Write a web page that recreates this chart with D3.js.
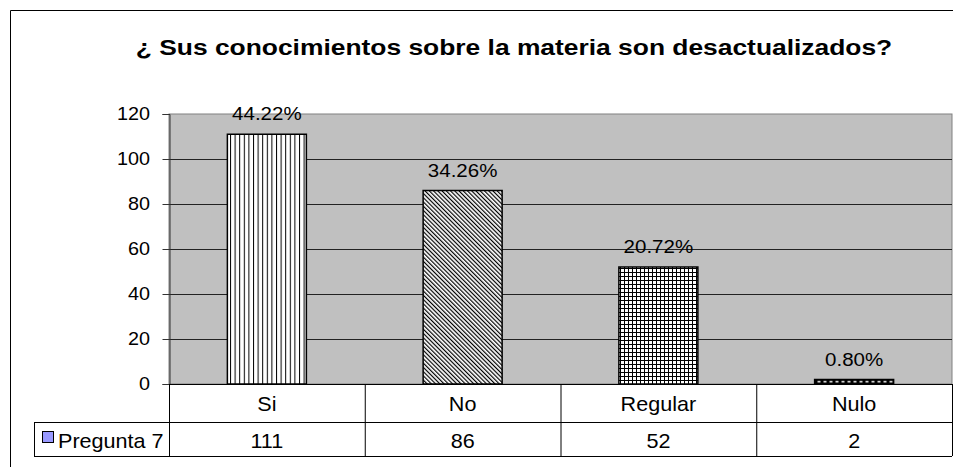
<!DOCTYPE html>
<html>
<head>
<meta charset="utf-8">
<script src="https://cdn.jsdelivr.net/npm/d3@7"></script>
<style>
  body { margin: 0; background: #fff; }
  text { font-family: "Liberation Sans", Arial, sans-serif; }
</style>
</head>
<body>
<svg id="chart" width="953" height="467"></svg>
<script>
// chart data
const categories = ['Si', 'No', 'Regular', 'Nulo'];
const values = [111, 86, 52, 2];
const percents = ['44.22%', '34.26%', '20.72%', '0.80%'];
const patterns = ['pVert', 'pDiag', 'pGrid', 'pDots'];
const yTicks = [0, 20, 40, 60, 80, 100, 120];
const seriesName = 'Pregunta 7';
const title = '¿ Sus conocimientos sobre la materia son desactualizados?';

const svg = d3.select('#chart');

const plot = { left: 169, right: 952, top: 114, bottom: 384 };
const rowH = [38, 34]; // category row, value row
const legendLeft = 34;
const stretch = 1.08; // picture is a bit wider than tall

const x = d3.scaleBand()
  .domain(categories)
  .range([plot.left, plot.right]);

const y = d3.scaleLinear()
  .domain([0, 120])
  .range([plot.bottom, plot.top]);

// patterns
const defs = svg.append('defs');

let p = defs.append('pattern').attr('id', 'pVert')
  .attr('patternUnits', 'userSpaceOnUse').attr('width', 4.6).attr('height', 4);
p.append('rect').attr('width', 4.6).attr('height', 4).attr('fill', '#fff');
p.append('rect').attr('width', 1).attr('height', 4).attr('fill', '#000');

p = defs.append('pattern').attr('id', 'pDiag')
  .attr('patternUnits', 'userSpaceOnUse').attr('width', 3).attr('height', 3)
  .attr('patternTransform', 'rotate(-45)');
p.append('rect').attr('width', 3).attr('height', 3).attr('fill', '#fff');
p.append('rect').attr('width', 1.2).attr('height', 3).attr('fill', '#000');

p = defs.append('pattern').attr('id', 'pGrid')
  .attr('patternUnits', 'userSpaceOnUse').attr('width', 4).attr('height', 4);
p.append('rect').attr('width', 4).attr('height', 4).attr('fill', '#fff');
p.append('rect').attr('width', 4).attr('height', 1).attr('fill', '#000');
p.append('rect').attr('width', 1).attr('height', 4).attr('fill', '#000');

p = defs.append('pattern').attr('id', 'pDots')
  .attr('patternUnits', 'userSpaceOnUse').attr('width', 6).attr('height', 4.5)
  .attr('y', plot.bottom);
p.append('rect').attr('width', 6).attr('height', 4.5).attr('fill', '#000');
p.append('rect').attr('x', 1.5).attr('y', 1.5).attr('width', 3).attr('height', 1.5).attr('fill', '#fff');

// helper: text stretched horizontally around its anchor
function label(g, tx, ty, str, size, anchor, sx) {
  return g.append('text')
    .attr('transform', `translate(${tx},${ty}) scale(${sx || stretch},1)`)
    .attr('text-anchor', anchor || 'middle')
    .attr('font-size', size).attr('fill', '#000')
    .text(str);
}

// outer frame (cropped at right / bottom)
svg.append('path')
  .attr('d', 'M10.5,467 V10.5 H953')
  .attr('fill', 'none').attr('stroke', '#000').attr('stroke-width', 1);

// title
label(svg, 514, 55, title, 22, 'middle', 1.2).attr('font-weight', 'bold');

// plot background
svg.append('rect')
  .attr('x', plot.left).attr('y', plot.top)
  .attr('width', plot.right - plot.left).attr('height', plot.bottom - plot.top)
  .attr('fill', '#c0c0c0').attr('stroke', '#808080').attr('stroke-width', 1);

// gridlines
svg.append('g').selectAll('line')
  .data(yTicks.filter(d => d > 0 && d < 120))
  .join('line')
  .attr('x1', plot.left).attr('x2', plot.right)
  .attr('y1', d => Math.round(y(d)) + 0.5).attr('y2', d => Math.round(y(d)) + 0.5)
  .attr('stroke', '#222').attr('stroke-width', 1);

// y axis
const yAxis = svg.append('g')
  .attr('transform', `translate(${plot.left + 0.5},0)`)
  .call(d3.axisLeft(y).tickValues(yTicks).tickSize(7).tickPadding(12));
yAxis.select('.domain').attr('stroke', '#333');
yAxis.selectAll('.tick line').attr('stroke', '#333');
yAxis.selectAll('.tick text')
  .attr('font-size', 18).attr('fill', '#000')
  .attr('font-family', '"Liberation Sans", Arial, sans-serif')
  .attr('x', 0)
  .attr('transform', 'translate(-19.5,0) scale(1.1,1)');

// bars
const barW = 79;
svg.append('g').selectAll('rect')
  .data(categories)
  .join('rect')
  .attr('x', d => x(d) + x.bandwidth() / 2 - barW / 2)
  .attr('y', (d, i) => y(values[i]))
  .attr('width', barW)
  .attr('height', (d, i) => plot.bottom - y(values[i]))
  .attr('fill', (d, i) => `url(#${patterns[i]})`)
  .attr('stroke', '#000').attr('stroke-width', 1.5);

// data labels
const lab = svg.append('g');
categories.forEach((c, i) => {
  label(lab, x(c) + x.bandwidth() / 2, y(values[i]) - 14, percents[i], 19);
});

// data table
const tbl = svg.append('g').attr('stroke', '#000').attr('stroke-width', 1);
const row1 = plot.bottom, row2 = plot.bottom + rowH[0], row3 = row2 + rowH[1];
tbl.append('line').attr('x1', plot.left).attr('x2', plot.right).attr('y1', row1 + 0.5).attr('y2', row1 + 0.5);
tbl.append('line').attr('x1', legendLeft).attr('x2', plot.right).attr('y1', row2 + 0.5).attr('y2', row2 + 0.5);
tbl.append('line').attr('x1', legendLeft).attr('x2', plot.right).attr('y1', row3 + 0.5).attr('y2', row3 + 0.5);
tbl.append('line').attr('x1', legendLeft + 0.5).attr('x2', legendLeft + 0.5).attr('y1', row2).attr('y2', row3);
tbl.selectAll('line.col')
  .data(categories.slice(1).concat(['end']))
  .join('line')
  .attr('class', 'col')
  .attr('x1', d => (d === 'end' ? plot.right : x(d)) + 0.5)
  .attr('x2', d => (d === 'end' ? plot.right : x(d)) + 0.5)
  .attr('y1', row1).attr('y2', row3);
tbl.append('line').attr('x1', plot.left + 0.5).attr('x2', plot.left + 0.5).attr('y1', row1).attr('y2', row3);

const cells = svg.append('g');
categories.forEach((c, i) => {
  label(cells, x(c) + x.bandwidth() / 2, row1 + 27, c, 20);
  label(cells, x(c) + x.bandwidth() / 2, row2 + 26, values[i], 20);
});

// legend key in table
svg.append('rect')
  .attr('x', 42.5).attr('y', row2 + 9.5)
  .attr('width', 11).attr('height', 11)
  .attr('fill', '#9999ff').attr('stroke', '#000').attr('stroke-width', 1);
label(svg, 58, row2 + 26, seriesName, 20, 'start');
</script>
</body>
</html>
